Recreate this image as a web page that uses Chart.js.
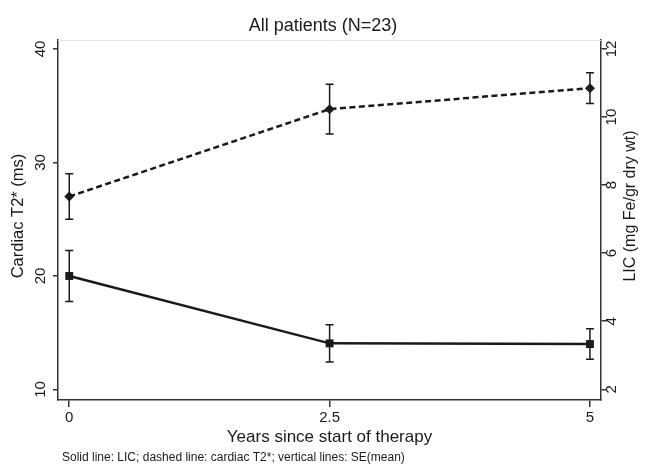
<!DOCTYPE html>
<html>
<head>
<meta charset="utf-8">
<script src="https://cdn.jsdelivr.net/npm/chart.js@4.4.1/dist/chart.umd.min.js"></script>
<style>
  html, body { margin: 0; padding: 0; background: #fff; }
  #wrap { width: 646px; height: 465px; }
</style>
</head>
<body>
<div id="wrap"><canvas id="c"></canvas></div>
<script>
// Follow-up visits (years since start of therapy)
const years = [0, 2.5, 5];
// Cardiac T2* (ms): mean and standard error of the mean
const t2Mean = [27.0, 34.7, 36.55];
const t2SE = [2.0, 2.2, 1.35];
// Liver iron concentration (mg Fe/gr dry wt): mean and SE
const licMean = [5.33, 3.35, 3.33];
const licSE = [0.75, 0.55, 0.45];
// Axis tick values
const xTicks = [0, 2.5, 5];
const t2Ticks = [10, 20, 30, 40];
const licTicks = [2, 4, 6, 8, 10, 12];

const INK = '#1a1a1a';
const AXIS = '#333';
const FONT = '"Liberation Sans", Arial, sans-serif';

// Vertical SE(mean) whiskers with short caps, placed through the chart scales
const seBars = {
  id: 'seBars',
  beforeDatasetsDraw(chart) {
    const { ctx, scales } = chart;
    const groups = [
      { axis: 'yL', mean: t2Mean, se: t2SE },
      { axis: 'yR', mean: licMean, se: licSE }
    ];
    ctx.save();
    ctx.strokeStyle = INK;
    ctx.lineWidth = 1.5;
    groups.forEach(g => {
      const ys = scales[g.axis];
      years.forEach((yr, i) => {
        const px = scales.x.getPixelForValue(yr);
        const top = ys.getPixelForValue(g.mean[i] + g.se[i]);
        const bot = ys.getPixelForValue(g.mean[i] - g.se[i]);
        ctx.beginPath();
        ctx.moveTo(px, top); ctx.lineTo(px, bot);
        ctx.moveTo(px - 4, top); ctx.lineTo(px + 4, top);
        ctx.moveTo(px - 4, bot); ctx.lineTo(px + 4, bot);
        ctx.stroke();
      });
    });
    ctx.restore();
  }
};

// Rotated axis titles, the faint plot-region top edge and the footnote
const annotations = {
  id: 'annotations',
  afterDraw(chart) {
    const { ctx, chartArea } = chart;
    ctx.save();
    ctx.strokeStyle = '#e4e4e4';
    ctx.lineWidth = 1;
    ctx.beginPath();
    ctx.moveTo(chartArea.left, chartArea.top + 0.5);
    ctx.lineTo(chartArea.right, chartArea.top + 0.5);
    ctx.stroke();

    ctx.fillStyle = INK;
    ctx.textAlign = 'center';
    ctx.textBaseline = 'middle';
    [['Cardiac T2* (ms)', 18, 216, 16.5], ['LIC (mg Fe/gr dry wt)', 631, 206, 16]].forEach(([t, x, y, size]) => {
      ctx.save();
      ctx.font = size + 'px ' + FONT;
      ctx.translate(x, y);
      ctx.rotate(-Math.PI / 2);
      ctx.fillText(t, 0, 0);
      ctx.restore();
    });

    ctx.textAlign = 'left';
    ctx.font = '12px ' + FONT;
    ctx.fillText('Solid line: LIC; dashed line: cardiac T2*; vertical lines: SE(mean)', 62, 458);
    ctx.restore();
  }
};

const tickGrid = len => ({
  display: true,
  drawOnChartArea: false,
  drawTicks: true,
  tickLength: len,
  color: AXIS,
  lineWidth: 1.5
});
const border = { display: true, color: AXIS, width: 1.5 };

new Chart(document.getElementById('c'), {
  type: 'line',
  data: {
    datasets: [
      {
        label: 'Cardiac T2*',
        data: years.map((x, i) => ({ x, y: t2Mean[i] })),
        yAxisID: 'yL',
        borderColor: INK,
        backgroundColor: INK,
        borderWidth: 2.5,
        borderDash: [6, 3.5],
        pointStyle: 'rectRot',
        pointRadius: 5,
        pointBorderWidth: 0,
        tension: 0
      },
      {
        label: 'LIC',
        data: years.map((x, i) => ({ x, y: licMean[i] })),
        yAxisID: 'yR',
        borderColor: INK,
        backgroundColor: INK,
        borderWidth: 2.5,
        pointStyle: 'rect',
        pointRadius: 5.6,
        pointBorderWidth: 0,
        tension: 0
      }
    ]
  },
  options: {
    responsive: true,
    maintainAspectRatio: false,
    animation: false,
    layout: { padding: 0 },
    plugins: {
      legend: { display: false },
      tooltip: { enabled: false },
      title: {
        display: true,
        text: 'All patients (N=23)',
        color: INK,
        font: { family: FONT, size: 18, weight: 'normal' },
        padding: { top: 15.2, bottom: 3.2 }
      }
    },
    scales: {
      x: {
        type: 'linear',
        min: -0.108,
        max: 5.106,
        afterBuildTicks: s => { s.ticks = xTicks.map(v => ({ value: v })); },
        afterFit: s => { s.height = 65; },
        grid: tickGrid(7),
        border,
        ticks: {
          color: INK,
          font: { family: FONT, size: 15 },
          padding: 2,
          maxRotation: 0,
          callback: v => String(v)
        },
        title: {
          display: true,
          text: 'Years since start of therapy',
          color: INK,
          font: { family: FONT, size: 17 },
          padding: { top: 0, bottom: 17 }
        }
      },
      yL: {
        type: 'linear',
        position: 'left',
        min: 9.075,
        max: 40.79,
        afterBuildTicks: s => { s.ticks = t2Ticks.map(v => ({ value: v })); },
        afterFit: s => { s.width = 58; },
        grid: tickGrid(5),
        border,
        ticks: {
          color: INK,
          font: { family: FONT, size: 15 },
          minRotation: 90,
          maxRotation: 90,
          crossAlign: 'center',
          padding: 4
        }
      },
      yR: {
        type: 'linear',
        position: 'right',
        min: 1.686,
        max: 12.264,
        afterBuildTicks: s => { s.ticks = licTicks.map(v => ({ value: v })); },
        afterFit: s => { s.width = 45; },
        grid: tickGrid(6),
        border,
        ticks: {
          color: INK,
          font: { family: FONT, size: 15 },
          minRotation: 90,
          maxRotation: 90,
          crossAlign: 'center',
          padding: -3
        }
      }
    }
  },
  plugins: [seBars, annotations]
});
</script>
</body>
</html>
